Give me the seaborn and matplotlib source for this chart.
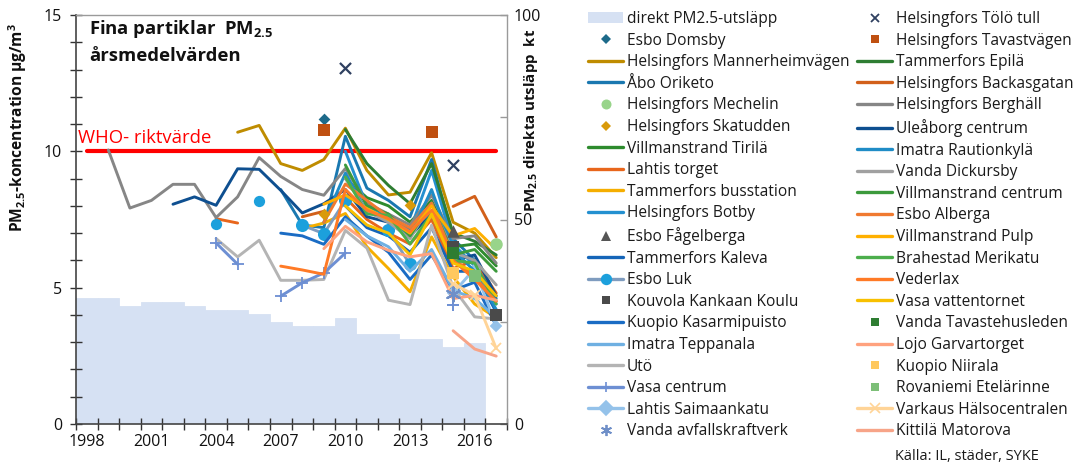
import numpy as np
import pandas as pd
import matplotlib
matplotlib.use("Agg")
import matplotlib.pyplot as plt
from matplotlib.lines import Line2D
from matplotlib.patches import Patch
from matplotlib.ticker import FixedLocator, FuncFormatter
import seaborn as sns

sns.set_theme(style="white")
plt.rcParams['font.family'] = ['Open Sans', 'DejaVu Sans']
plt.rcParams['mathtext.fontset'] = 'custom'
plt.rcParams['mathtext.rm'] = 'Open Sans'
plt.rcParams['mathtext.bf'] = 'Open Sans:bold'

nan = np.nan
years = list(range(1998, 2018))
year_labels = [1998, 2001, 2004, 2007, 2010, 2013, 2016]

# direct PM2.5 emissions, kt (right axis)
emission_kt = [30.9, 30.9, 28.9, 29.9, 29.9, 28.9, 27.9, 27.9, 26.9, 25.0,
               23.9, 23.9, 25.9, 21.9, 21.9, 20.8, 20.8, 18.9, 19.9, nan]

who_limit = 10

# concentrations, µg/m3, {year: value}
mannerheim = {2005: 10.7, 2006: 10.95, 2007: 9.55, 2008: 9.3, 2009: 9.7, 2010: 10.85, 2011: 9.3,
              2012: 8.4, 2013: 8.5, 2014: 9.95, 2015: 7.4, 2016: 7.0, 2017: 6.1}
abo_oriketo = {2007: 8.6, 2008: 7.3, 2009: 7.2, 2010: 10.55, 2011: 8.65, 2012: 8.2, 2013: 7.6,
               2014: 9.7, 2015: 6.8, 2016: 6.0, 2017: 4.6}
vil_tirila = {2010: 9.0, 2011: 8.3, 2012: 8.0, 2013: 7.4, 2014: 8.2, 2015: 6.5, 2016: 6.6, 2017: 5.8}
lahtis_torget = {2004: 7.53, 2005: 7.37, 2010: 8.3, 2011: 7.5, 2012: 7.0, 2013: 6.6, 2014: 7.5,
                 2015: 5.7, 2016: 6.0, 2017: 4.8}
tam_buss = {2008: 7.17, 2009: 7.37, 2010: 7.72, 2011: 6.5, 2012: 5.7, 2013: 4.85, 2014: 6.86,
            2015: 5.4, 2016: 4.4, 2017: 3.9}
hel_botby = {2010: 10.0, 2011: 8.0, 2012: 7.6, 2013: 7.1, 2014: 9.3, 2015: 6.6, 2016: 5.8, 2017: 4.4}
tam_kaleva = {2010: 8.0, 2011: 7.2, 2012: 6.9, 2013: 6.3, 2014: 7.2, 2015: 5.6, 2016: 5.6, 2017: 4.1}
esbo_luk = {2004: 7.33, 2006: 8.17, 2008: 7.29, 2009: 6.98, 2010: 8.2, 2012: 7.1, 2013: 5.85}
kuopio_kas = {2007: 7.0, 2008: 6.9, 2009: 6.59, 2010: 7.6, 2011: 6.9, 2012: 6.3, 2013: 5.3,
              2014: 6.2, 2015: 4.9, 2016: 5.2, 2017: 3.6}
imatra_tep = {2010: 7.5, 2011: 6.9, 2012: 6.5, 2013: 5.6, 2014: 6.4, 2015: 4.9, 2016: 4.6, 2017: 3.9}
uto = {2004: 6.8, 2005: 6.13, 2006: 6.74, 2007: 5.27, 2008: 5.27, 2009: 5.3, 2010: 7.1, 2011: 6.45,
       2012: 4.54, 2013: 4.38, 2014: 7.29, 2015: 5.0, 2016: 3.93, 2017: 3.85}
vasa_centrum = {2004: 6.64, 2005: 5.86, 2007: 4.69, 2008: 5.18, 2009: 5.54, 2010: 6.27, 2015: 4.36}
lahtis_saima = {2015: 4.8, 2016: 5.7, 2017: 3.6}
tam_epila = {2010: 10.8, 2011: 9.55, 2012: 8.75, 2013: 8.08, 2014: 9.55, 2015: 7.0, 2016: 6.7, 2017: 6.2}
hel_backas = {2008: 7.6, 2009: 7.8, 2015: 7.98, 2016: 8.35, 2017: 6.86}
hel_berghall = {1999: 10.05, 2000: 7.92, 2001: 8.2, 2002: 8.79, 2003: 8.79, 2004: 7.57, 2005: 8.33,
                2006: 9.77, 2007: 9.08, 2008: 8.6, 2009: 8.39, 2010: 9.37, 2011: 8.1, 2012: 7.7,
                2013: 7.3, 2014: 8.4, 2015: 6.8, 2016: 6.9, 2017: 5.9}
uleaborg = {2002: 8.06, 2003: 8.33, 2004: 8.02, 2005: 9.36, 2006: 9.34, 2007: 8.57, 2008: 7.74,
            2009: 8.08, 2010: 8.6, 2011: 7.6, 2012: 7.4, 2013: 6.9, 2014: 7.7, 2015: 6.0,
            2016: 6.2, 2017: 4.7}
imatra_raut = {2009: 7.4, 2010: 9.2, 2011: 7.8, 2012: 7.5, 2013: 6.9, 2014: 8.6, 2015: 6.4,
               2016: 5.6, 2017: 4.2}
vanda_dick = {2010: 9.0, 2011: 7.8, 2012: 7.4, 2013: 6.8, 2014: 8.1, 2015: 6.3, 2016: 6.0, 2017: 5.1}
vil_centrum = {2010: 9.5, 2011: 8.0, 2012: 7.7, 2013: 6.9, 2014: 8.1, 2015: 6.2, 2016: 6.4, 2017: 5.6}
esbo_alberga = {2009: 7.4, 2010: 8.8, 2011: 8.2, 2012: 7.6, 2013: 7.2, 2014: 8.1, 2015: 6.1,
                2016: 5.4, 2017: 4.5}
vil_pulp = {2009: 8.06, 2010: 8.4, 2011: 7.9, 2012: 7.5, 2013: 7.0, 2014: 8.0, 2015: 6.9,
            2016: 7.17, 2017: 6.4}
brahestad = {2010: 9.06, 2011: 7.7, 2012: 7.66, 2013: 6.6, 2014: 7.7, 2015: 6.0, 2016: 5.9, 2017: 4.4}
vederlax = {2007: 5.79, 2008: 5.65, 2009: 5.49, 2010: 8.6, 2011: 7.84, 2012: 7.53, 2013: 7.05,
            2014: 7.84, 2015: 6.0, 2016: 5.3, 2017: 4.5}
vasa_vatten = {2010: 8.0, 2011: 7.3, 2012: 7.0, 2013: 6.2, 2014: 7.7, 2015: 5.9, 2016: 5.6, 2017: 4.7}
lojo = {2009: 6.43, 2010: 7.25, 2011: 6.68, 2012: 6.37, 2013: 6.13, 2014: 6.25, 2015: 4.6,
        2016: 4.72, 2017: 4.54}
varkaus = {2015: 5.15, 2016: 4.72, 2017: 2.77}
kittila = {2015: 3.42, 2016: 2.75, 2017: 2.49}

# single-point stations
esbo_domsby = {2009: 11.2}
hel_mechelin = {2017: 6.6}
hel_skatudden = {2009: 7.72, 2013: 8.02}
esbo_fagel = {2015: 7.07}
kouvola = {2015: 6.5, 2017: 4.0}
vanda_avfall = {2015: 4.75}
hel_tolo = {2010: 13.05, 2015: 9.51}
hel_tavast = {2009: 10.8, 2014: 10.72}
vanda_tavaste = {2015: 6.27}
kuopio_niir = {2015: 5.52}
rovaniemi = {2016: 5.42}

# legend order: (label, data, kind, color, marker)
series = [
    ("Esbo Domsby", esbo_domsby, "pt", "#1d6a8a", "D"),
    ("Helsingfors Mannerheimvägen", mannerheim, "line", "#bf8c00", None),
    ("Åbo Oriketo", abo_oriketo, "line", "#1a78b0", None),
    ("Helsingfors Mechelin", hel_mechelin, "pt", "#98d48a", "o"),
    ("Helsingfors Skatudden", hel_skatudden, "pt", "#d99a0a", "D"),
    ("Villmanstrand Tirilä", vil_tirila, "line", "#2e8b2e", None),
    ("Lahtis torget", lahtis_torget, "line", "#e8661c", None),
    ("Tammerfors busstation", tam_buss, "line", "#f5ae00", None),
    ("Helsingfors Botby", hel_botby, "line", "#2490d0", None),
    ("Esbo Fågelberga", esbo_fagel, "pt", "#555555", "^"),
    ("Tammerfors Kaleva", tam_kaleva, "line", "#1565b8", None),
    ("Esbo Luk", esbo_luk, "line", "#7f9cbf", "o"),
    ("Kouvola Kankaan Koulu", kouvola, "pt", "#4a4a4a", "s"),
    ("Kuopio Kasarmipuisto", kuopio_kas, "line", "#1a6cc4", None),
    ("Imatra Teppanala", imatra_tep, "line", "#6fb0e2", None),
    ("Utö", uto, "line", "#b4b4b4", None),
    ("Vasa centrum", vasa_centrum, "line", "#6d8fd3", "+"),
    ("Lahtis Saimaankatu", lahtis_saima, "line", "#94c2ea", "D"),
    ("Vanda avfallskraftverk", vanda_avfall, "pt", "#6f8fc8", (6, 2, 0)),
    ("Helsingfors Tölö tull", hel_tolo, "pt", "#2f4060", "x"),
    ("Helsingfors Tavastvägen", hel_tavast, "pt", "#bf5011", "s"),
    ("Tammerfors Epilä", tam_epila, "line", "#2e7d32", None),
    ("Helsingfors Backasgatan", hel_backas, "line", "#d2601a", None),
    ("Helsingfors Berghäll", hel_berghall, "line", "#868686", None),
    ("Uleåborg centrum", uleaborg, "line", "#0e4f90", None),
    ("Imatra Rautionkylä", imatra_raut, "line", "#1f8cc6", None),
    ("Vanda Dickursby", vanda_dick, "line", "#a0a0a0", None),
    ("Villmanstrand centrum", vil_centrum, "line", "#3c9a3c", None),
    ("Esbo Alberga", esbo_alberga, "line", "#f07a30", None),
    ("Villmanstrand Pulp", vil_pulp, "line", "#ffb000", None),
    ("Brahestad Merikatu", brahestad, "line", "#4cae4c", None),
    ("Vederlax", vederlax, "line", "#ff7a26", None),
    ("Vasa vattentornet", vasa_vatten, "line", "#f8c000", None),
    ("Vanda Tavastehusleden", vanda_tavaste, "pt", "#2e7d32", "s"),
    ("Lojo Garvartorget", lojo, "line", "#ffa27e", None),
    ("Kuopio Niirala", kuopio_niir, "pt", "#ffc85e", "s"),
    ("Rovaniemi Etelärinne", rovaniemi, "pt", "#7dbf78", "s"),
    ("Varkaus Hälsocentralen", varkaus, "line", "#ffd497", "x"),
    ("Kittilä Matorova", kittila, "line", "#f7a488", None),
]

marker_face = {"Esbo Luk": "#1ca0dc", "Lahtis Saimaankatu": "#94c2ea"}
pt_size = {"D": 6, "o": 9, "^": 9, "s": 8, "x": 8, (6, 2, 0): 10, "+": 10}

W, H = 1078, 466
fig = plt.figure(figsize=(W / 100, H / 100), dpi=100)
ax = fig.add_axes([76 / W, 1 - 424 / H, (507 - 76) / W, (424 - 15) / H])
ax2 = ax.twinx()

# emissions as step bars on right axis
emis_df = pd.DataFrame({"year": years, "kt": emission_kt}).dropna()
sns.barplot(data=emis_df, x="year", y="kt", native_scale=True, width=1.0,
            color="#d6e1f3", saturation=1, edgecolor="#d6e1f3", linewidth=0.6, ax=ax2)
ax2.set_ylim(0, 100)
ax2.set_xlim(1997.5, 2017.5)

ax.set_zorder(ax2.get_zorder() + 1)
ax.patch.set_visible(False)

# WHO line
who_df = pd.DataFrame({"year": [1998, 2017], "v": [who_limit, who_limit]})
sns.lineplot(data=who_df, x="year", y="v", color="#ff0000", lw=3.0, ax=ax, zorder=1)

lw = 2.1
for label, d, kind, col, mk in series:
    vals = [d.get(y, nan) for y in years]
    if kind == "pt":
        pdf = pd.DataFrame({"year": list(d.keys()), "v": list(d.values())})
        if mk in ("x", "+", (6, 2, 0)):
            sns.scatterplot(data=pdf, x="year", y="v", marker=mk, color=col,
                            s=pt_size[mk] ** 2, linewidth=1.6, ax=ax, zorder=4)
        else:
            sns.scatterplot(data=pdf, x="year", y="v", marker=mk, color=col,
                            s=pt_size[mk] ** 2, linewidth=0, ax=ax, zorder=4)
        continue
    # split into contiguous runs
    runs, cur = [], []
    for y, v in zip(years, vals):
        if np.isnan(v):
            if cur:
                runs.append(cur)
            cur = []
        else:
            cur.append((y, v))
    if cur:
        runs.append(cur)
    for r in runs:
        rdf = pd.DataFrame(r, columns=["year", "v"])
        if len(r) >= 2:
            kw = {}
            if mk is not None:
                kw = dict(marker=mk, markersize=pt_size.get(mk, 8) * 0.9,
                          markerfacecolor=marker_face.get(label, col),
                          markeredgecolor=marker_face.get(label, col), markeredgewidth=1.3)
            sns.lineplot(data=rdf, x="year", y="v", color=col, lw=lw, ax=ax, zorder=3, **kw)
        elif mk is not None:
            sns.scatterplot(data=rdf, x="year", y="v", marker=mk,
                            color=marker_face.get(label, col), s=(pt_size.get(mk, 8) * 0.9) ** 2,
                            linewidth=1.4 if mk in ("+", "x") else 0, ax=ax, zorder=4)

ax.set_xlim(1997.5, 2017.5)
ax.set_ylim(0, 15)
ax.set_xlabel("")
ax.set_ylabel("")
ax2.set_ylabel("")
ax2.set_xlabel("")

# ticks
ax.xaxis.set_major_locator(FixedLocator(np.arange(1997.5, 2018, 1)))
ax.xaxis.set_major_formatter(FuncFormatter(lambda v, p: ""))
ax.xaxis.set_minor_locator(FixedLocator(year_labels))
ax.xaxis.set_minor_formatter(FuncFormatter(lambda v, p: f"{int(round(v))}"))
ax.tick_params(axis="x", which="major", direction="inout", length=8, width=1, color="#333333",
               bottom=True)
ax.tick_params(axis="x", which="minor", length=0, labelsize=11.5, labelcolor="#111111", pad=7,
               bottom=True)
ax.yaxis.set_major_locator(FixedLocator(np.arange(0, 16, 1)))
ax.yaxis.set_major_formatter(FuncFormatter(lambda v, p: f"{int(v)}" if int(v) % 5 == 0 else ""))
ax.tick_params(axis="y", which="major", direction="inout", length=8, width=1, color="#333333",
               labelsize=11.5, labelcolor="#111111", left=True, pad=6)
ax2.yaxis.set_major_locator(FixedLocator([0, 25, 50, 75, 100]))
ax2.yaxis.set_major_formatter(FuncFormatter(lambda v, p: f"{int(v)}" if int(v) % 50 == 0 else ""))
ax2.tick_params(axis="y", direction="in", length=5, width=1, color="#999999",
                labelsize=11.5, labelcolor="#111111", right=True, pad=5)

for sp in ["left", "bottom"]:
    ax.spines[sp].set_color("#444444")
    ax.spines[sp].set_linewidth(1.2)
for sp in ["top", "right"]:
    ax.spines[sp].set_color("#9a9a9a")
    ax.spines[sp].set_linewidth(1.0)
for sp in ax2.spines.values():
    sp.set_visible(False)
ax.grid(False)
ax2.grid(False)

# texts
fig.text(89 / W, 1 - 34 / H, r"Fina partiklar  PM$_{\mathbf{2.5}}$",
         fontsize=13.3, fontweight="bold", color="#111111")
fig.text(89 / W, 1 - 61 / H, "årsmedelvärden",
         fontsize=13.3, fontweight="bold", color="#111111")
fig.text(78 / W, 1 - 143 / H, "WHO- riktvärde", fontsize=13.3, color="#ff0000")
fig.text(18 / W, 1 - 128 / H, r"PM$_{\mathbf{2.5}}$-koncentration µg/m$^{\mathbf{3}}$",
         rotation=90, ha="center", va="center", fontsize=11.2, fontweight="bold", color="#111111")
fig.text(531 / W, 1 - 120 / H, r"PM$_{\mathbf{2.5}}$ direkta utsläpp  kt",
         rotation=90, ha="center", va="center", fontsize=10.8, fontweight="bold", color="#111111")

# legend
handles = [Patch(facecolor="#d6e1f3", edgecolor="none")]
labels = ["direkt PM2.5-utsläpp"]
for label, d, kind, col, mk in series:
    if kind == "pt":
        ms = pt_size[mk] * 0.8
        h = Line2D([], [], ls="none", marker=mk, color=col, markersize=ms,
                   markeredgewidth=1.3 if mk in ("x", "+", (6, 2, 0)) else 0)
    else:
        if mk is not None:
            h = Line2D([], [], color=col, lw=2.4, marker=mk, markersize=7,
                       markerfacecolor=marker_face.get(label, col),
                       markeredgecolor=marker_face.get(label, col), markeredgewidth=1.2)
        else:
            h = Line2D([], [], color=col, lw=2.4)
    handles.append(h)
    labels.append(label)

leg = fig.legend(handles, labels, loc="upper left", bbox_to_anchor=(588 / W, 1 - 11 / H),
                 ncol=2, frameon=False, fontsize=11.2, handlelength=2.25, handletextpad=0.25,
                 labelspacing=0.36, columnspacing=0.5, borderaxespad=0, borderpad=0)
for t in leg.get_texts():
    t.set_color("#1a1a1a")

fig.text(895 / W, 1 - 457 / H, "Källa: IL, städer, SYKE", fontsize=10.5, color="#1a1a1a",
         va="center")

fig.savefig("out.png", dpi=100)
